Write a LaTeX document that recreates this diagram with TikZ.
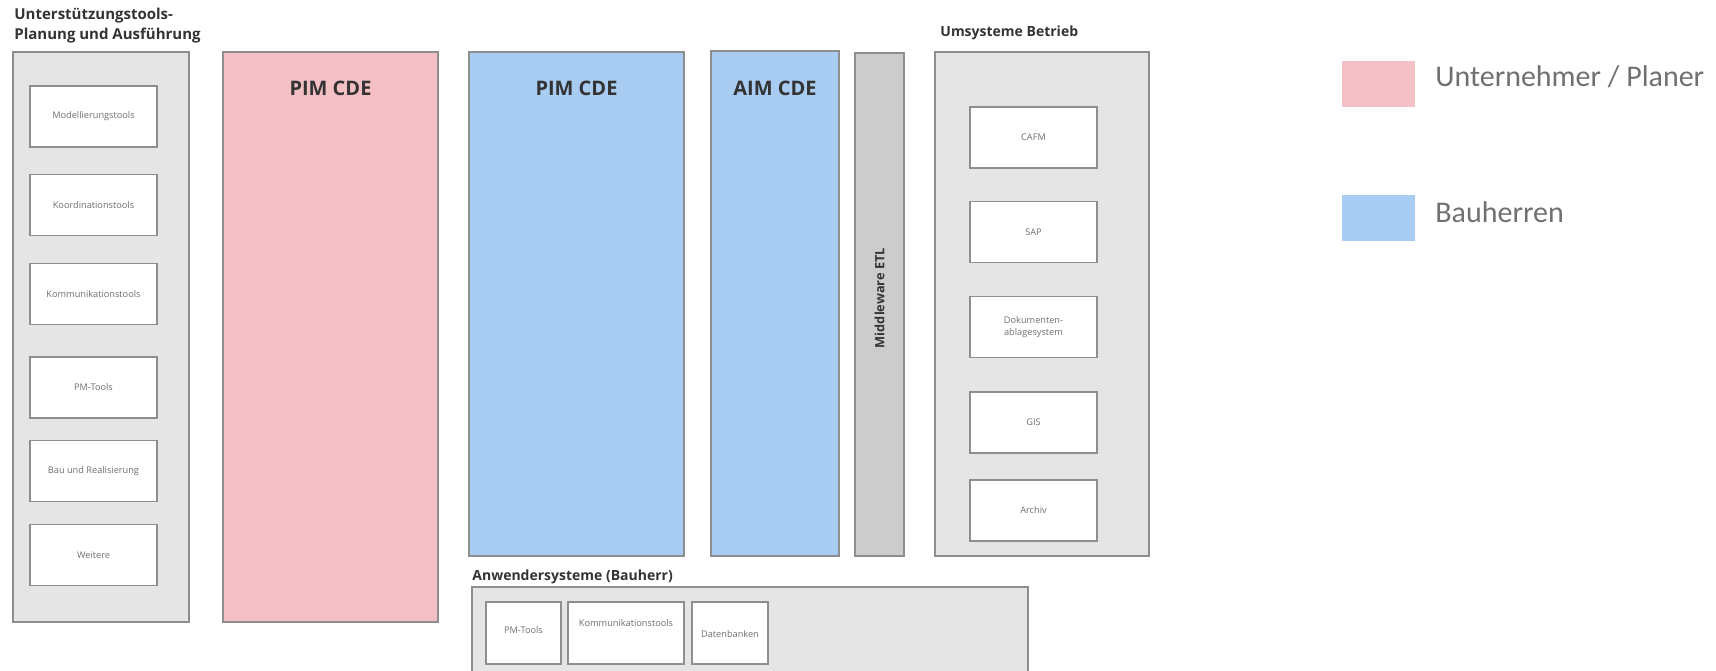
\documentclass[tikz,border=0pt]{standalone}
\usepackage{fontspec}
\setmainfont{Open Sans}
\newfontfamily\legfont{Carlito}
\definecolor{pinkfill}{HTML}{F4C0C5}
\definecolor{bluefill}{HTML}{A8CCF2}
\definecolor{grayfill}{HTML}{E5E5E5}
\definecolor{midfill}{HTML}{CCCCCC}
\definecolor{edgegray}{HTML}{8E8E8E}
\definecolor{txtdark}{HTML}{333333}
\definecolor{txtgray}{HTML}{707070}
\definecolor{legtxt}{HTML}{707070}
\tikzset{
  box/.style={draw=edgegray, line width=0.75pt, inner sep=0pt, rectangle},
  grp/.style={box, fill=grayfill},
  tool/.style={draw=edgegray, line width=0.6pt, fill=white, inner sep=0pt, rectangle,
    text=txtgray, font=\fontsize{4.6}{5.8}\selectfont, align=center},
  tooltxt/.style={inner sep=0pt, text=txtgray, font=\fontsize{4.6}{5.8}\selectfont},
  cdetxt/.style={font=\bfseries\fontsize{10}{12}\selectfont, text=txtdark, inner sep=0pt},
  grptitle/.style={anchor=west, inner sep=0pt, text=txtdark, font=\bfseries\fontsize{7}{10}\selectfont, align=left},
  legbox/.style={inner sep=0pt, minimum width=36.5pt, minimum height=23pt},
  legtext/.style={anchor=west, inner sep=0pt, text=legtxt, font=\legfont\fontsize{15}{18}\selectfont}
}
\begin{document}
\begin{tikzpicture}[x=0.5pt, y=-0.5pt]
\useasboundingbox (0,0) rectangle (1716,670);
% left group
\node[grptitle, font=\bfseries\fontsize{7.5}{10}\selectfont] (lt) at (14,25.5) {Unterstützungstools-\\Planung und Ausführung};
\node[grp, minimum width=88pt, minimum height=285pt] (left) at (101,337) {};
\foreach \n/\y/\t in {mod/116.5/Modellierungstools, koord/205/Koordinationstools,
  komm/294/Kommunikationstools, pm/387.5/PM-Tools, bau/471/Bau und Realisierung, weit/555/Weitere}
  \node[tool, minimum width=63.5pt, minimum height=30.5pt] (\n) at (93.5,\y) {\t};
% CDEs
\node[box, fill=pinkfill, minimum width=107.5pt, minimum height=285pt] (pimr) at (330.5,337) {};
\node[cdetxt] (pimrt) at (330.5,88) {PIM CDE};
\node[box, fill=bluefill, minimum width=107.5pt, minimum height=252pt] (pimb) at (576.5,304) {};
\node[cdetxt] (pimbt) at (576.5,88) {PIM CDE};
\node[box, fill=bluefill, minimum width=64pt, minimum height=252.5pt] (aim) at (775,303.5) {};
\node[cdetxt] (aimt) at (775,88) {AIM CDE};
% middleware
\node[box, fill=midfill, minimum width=24.5pt, minimum height=251.5pt] (mw) at (879.5,304.5) {};
\node[rotate=90, text=txtdark, font=\bfseries\fontsize{6.4}{8}\selectfont] (mwt) at (879.5,298) {Middleware ETL};
% Umsysteme
\node[grptitle] (ut) at (940,33) {Umsysteme Betrieb};
\node[grp, minimum width=107pt, minimum height=252pt] (ums) at (1042,304) {};
\foreach \n/\y/\t in {cafm/137.5/CAFM, sap/232/SAP, dok/327/{Dokumenten-\\ablagesystem},
  gis/422.5/GIS, arch/510.5/Archiv}
  \node[tool, minimum width=63.5pt, minimum height=30.5pt] (\n) at (1033.5,\y) {\t};
% Anwendersysteme
\node[grptitle] (at) at (472,577) {Anwendersysteme (Bauherr)};
\node[grp, minimum width=278pt, minimum height=45pt] (anw) at (750,632) {};
\node[tool, minimum width=37.5pt, minimum height=31pt] (apm) at (523.5,633) {};
\node[tooltxt] (apmt) at (523.5,630) {PM-Tools};
\node[tool, minimum width=58pt, minimum height=31pt] (akomm) at (626,633) {};
\node[tooltxt] (akommt) at (626,623) {Kommunikationstools};
\node[tool, minimum width=38pt, minimum height=31pt] (adat) at (730,633) {};
\node[tooltxt] (adatt) at (730,634) {Datenbanken};
% legend
\node[legbox, fill=pinkfill] (lp) at (1378.5,84) {};
\node[legtext] (lpt) at (1435,77) {Unternehmer / Planer};
\node[legbox, fill=bluefill] (lb) at (1378.5,218) {};
\node[legtext] (lbt) at (1435,212) {Bauherren};
\end{tikzpicture}
\end{document}
